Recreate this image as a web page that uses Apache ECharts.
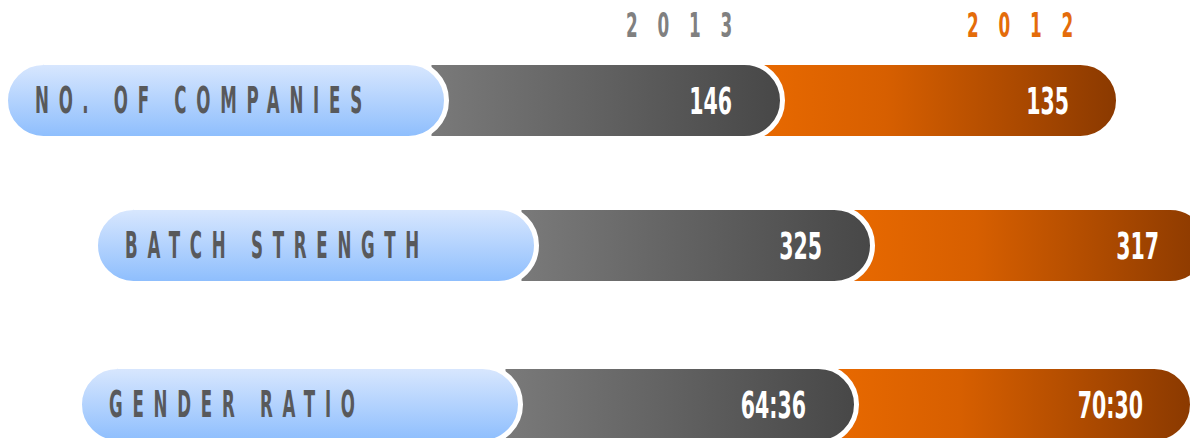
<!DOCTYPE html>
<html>
<head>
<meta charset="utf-8">
<script src="https://cdn.jsdelivr.net/npm/echarts@6/dist/echarts.min.js"></script>
<style>
  html, body { margin: 0; padding: 0; background: #ffffff; }
  #chart { width: 1190px; height: 438px; }
</style>
</head>
<body>
<div id="chart"></div>
<script>
// ---- data ----
const categories = ['NO. OF COMPANIES', 'BATCH STRENGTH', 'GENDER RATIO'];
const years = ['2013', '2012'];
const values2013 = ['146', '325', '64:36'];
const values2012 = ['135', '317', '70:30'];

// ---- layout (pixels) ----
const rowStart = [8, 98, 82];      // left edge of each row
const rowNudge = [0, -7, 0];       // vertical fine-tuning
const FONT = "'DejaVu Sans Condensed', 'DejaVu Sans', sans-serif";
const SQX_LABEL = 0.5;             // horizontal squeeze to mimic a tall condensed face
const SQX_NUM = 0.6;
const SQX_YEAR = 0.55;

const blueGrad = new echarts.graphic.LinearGradient(0, 0, 0, 1, [
  { offset: 0, color: '#dae8fe' }, { offset: 1, color: '#8cbdfd' }
]);
const grayGrad = new echarts.graphic.LinearGradient(0, 0, 1, 0, [
  { offset: 0, color: '#7a7a7a' }, { offset: 1, color: '#474747' }
]);
const orangeGrad = new echarts.graphic.LinearGradient(0, 0, 1, 0, [
  { offset: 0, color: '#e86900' }, { offset: 0.35, color: '#d75f00' }, { offset: 1, color: '#8a3900' }
]);

function renderItem(params, api) {
  const i = params.dataIndex;
  const off = rowStart[i];
  const cat = api.value(1);
  const X = v => api.coord([off + v, cat])[0];
  const cy = api.coord([0, cat])[1] + rowNudge[i];
  const h = 76, r = 38, top = cy - h / 2;
  const rect = (x0, x1, rr, fill) => ({
    type: 'rect',
    shape: { x: X(x0), y: top, width: X(x1) - X(x0), height: h, r: rr },
    style: { fill: fill, stroke: '#ffffff', lineWidth: 5 }
  });
  const txt = (x, text, align, size, color, sq) => ({
    type: 'text', x: x, y: cy, scaleX: sq,
    style: {
      x: 0, y: 0, text: text, fill: color, align: align, verticalAlign: 'middle',
      fontFamily: FONT, fontWeight: 'bold', fontSize: size
    }
  });
  return {
    type: 'group',
    children: [
      rect(752, 1110.5, [0, r, r, 0], orangeGrad),
      rect(421, 774.5, [0, r, r, 0], grayGrad),
      rect(-2.5, 438.5, r, blueGrad),
      txt(X(27), categories[i], 'left', 37, '#58595b', SQX_LABEL),
      txt(X(724), values2013[i], 'right', 38, '#ffffff', SQX_NUM),
      txt(X(1061), values2012[i], 'right', 38, '#ffffff', SQX_NUM)
    ]
  };
}

const chart = echarts.init(document.getElementById('chart'), null, { renderer: 'svg' });
chart.setOption({
  animation: false,
  backgroundColor: '#ffffff',
  grid: { left: 0, right: 0, top: 100.5, bottom: 33.5 },
  xAxis: { type: 'value', min: 0, max: 1190, show: false },
  yAxis: { type: 'category', data: categories, inverse: true, boundaryGap: false, show: false },
  graphic: [
    { type: 'text', x: 626, y: 25, scaleX: SQX_YEAR,
      style: { text: years[0], fill: '#808080', align: 'left', verticalAlign: 'middle',
               fontFamily: FONT, fontWeight: 'bold', fontSize: 34 } },
    { type: 'text', x: 967, y: 25, scaleX: SQX_YEAR,
      style: { text: years[1], fill: '#e46c0a', align: 'left', verticalAlign: 'middle',
               fontFamily: FONT, fontWeight: 'bold', fontSize: 34 } }
  ],
  series: [{
    type: 'custom',
    name: 'rows',
    renderItem: renderItem,
    data: categories.map((c, i) => [0, i]),
    encode: { x: 0, y: 1 },
    silent: true
  }]
});

// letter spacing for the spaced-out caption texts
const spacing = {};
categories.forEach(c => { spacing[c] = 19.5; });
years.forEach(y => { spacing[y] = 36; });
function applySpacing() {
  document.querySelectorAll('#chart text').forEach(t => {
    const s = spacing[t.textContent];
    if (s) t.setAttribute('letter-spacing', s + 'px');
  });
}
applySpacing();
chart.on('finished', applySpacing);
</script>
</body>
</html>
